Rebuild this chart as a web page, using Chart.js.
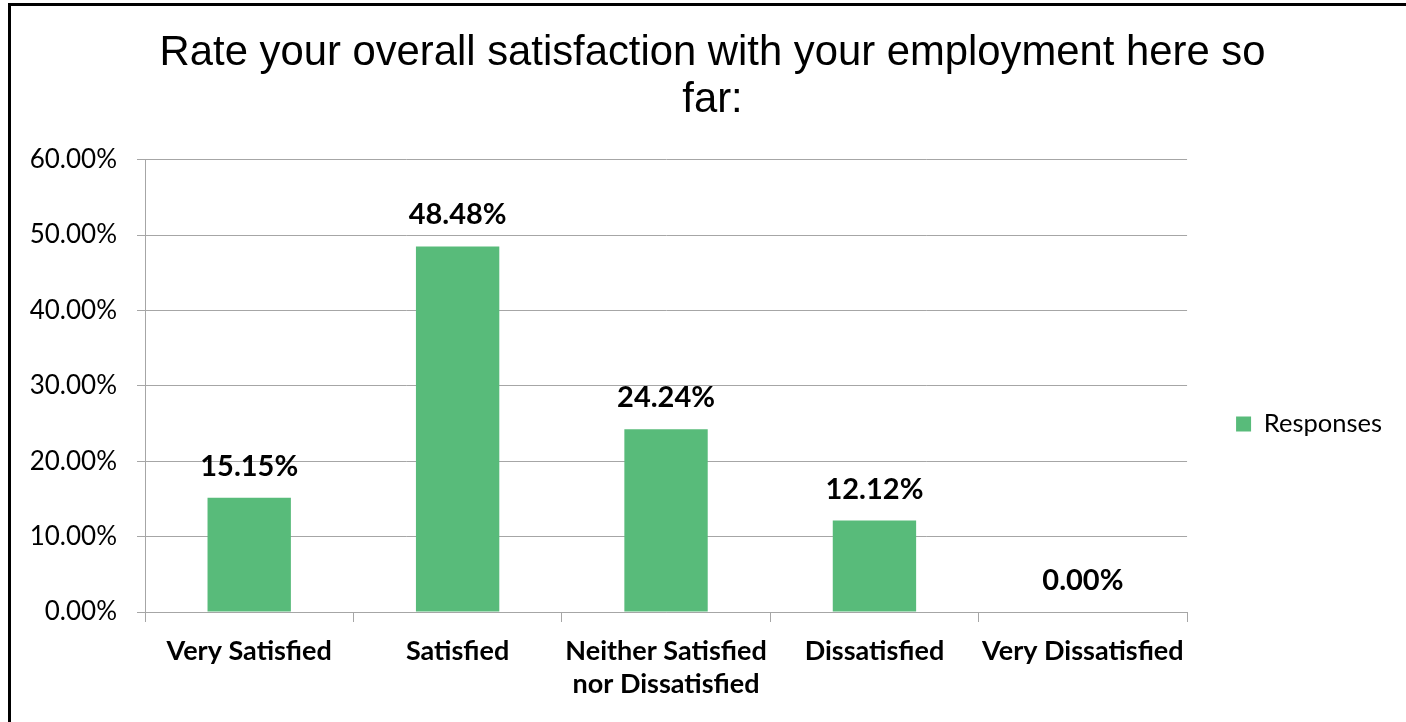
<!DOCTYPE html>
<html>
<head>
<meta charset="utf-8">
<script src="https://cdn.jsdelivr.net/npm/chart.js@4.4.0/dist/chart.umd.min.js"></script>
<style>
  html, body { margin: 0; padding: 0; background: #fff; overflow: hidden; }
  .frame { position: absolute; left: 8px; top: 3px; width: 1500px; height: 800px; border-left: 3px solid #000; border-top: 3px solid #000; }
  .wrap { position: absolute; left: 11px; top: 6px; width: 1381px; height: 836px; }
</style>
</head>
<body>
<div class="frame"></div>
<div class="wrap"><canvas id="bar-chart"></canvas></div>
<script>
const titleLines = ['Rate your overall satisfaction with your employment here so', 'far:'];
const categories = [
    'Very Satisfied',
    'Satisfied',
    ['Neither Satisfied', 'nor Dissatisfied'],
    'Dissatisfied',
    'Very Dissatisfied'
];
const responses = [15.15, 48.48, 24.24, 12.12, 0.00];
const seriesName = 'Responses';
const yMax = 60;
const yStep = 10;

const barColor = '#58BB7A';
const gridColor = '#A6A6A6';
const textFont = 'Lato, "Open Sans", sans-serif';

// draws the value above each bar
const valueLabels = {
    id: 'valueLabels',
    afterLayout(chart) {
        // title sits a bit right of the plot centre in the original
        chart.titleBlock.left += 4;
        chart.titleBlock.right += 4;
    },
    afterDatasetsDraw(chart) {
        let ctx = chart.ctx;
        let meta = chart.getDatasetMeta(0);
        ctx.save();
        ctx.font = 'bold 29px ' + textFont;
        ctx.fillStyle = '#000';
        ctx.textAlign = 'center';
        ctx.textBaseline = 'alphabetic';
        meta.data.forEach((bar, i) => {
            ctx.fillText(responses[i].toFixed(2) + '%', bar.x, bar.y - 22);
        });
        ctx.restore();
    }
};

let options = {
    type: 'bar',
    data: {
        labels: categories,
        datasets: [{
            label: seriesName,
            data: responses,
            backgroundColor: barColor,
            borderWidth: 0,
            barPercentage: 0.4,
            categoryPercentage: 1.0
        }]
    },
    options: {
        responsive: true,
        maintainAspectRatio: false,
        animation: false,
        layout: { padding: { left: 14, right: 0, top: 0, bottom: 0 } },
        plugins: {
            title: {
                display: true,
                text: titleLines,
                color: '#000',
                font: { family: '"Liberation Sans", Arial, sans-serif', size: 41.8, weight: 'normal', lineHeight: 1.12 },
                padding: { top: 24, bottom: 36 }
            },
            legend: {
                position: 'right',
                labels: {
                    color: '#000',
                    font: { family: textFont, size: 25.5 },
                    boxWidth: 15,
                    boxHeight: 15,
                    padding: 49
                }
            },
            tooltip: { enabled: false }
        },
        scales: {
            x: {
                afterFit: (scale) => { scale.height = 230; },
                grid: { display: true, drawOnChartArea: false, drawTicks: true, tickLength: 10, color: gridColor, offset: true },
                border: { display: true, color: gridColor },
                ticks: {
                    color: '#000',
                    font: { family: textFont, size: 27, weight: 'bold', lineHeight: 1.22 },
                    padding: 13,
                    maxRotation: 0,
                    autoSkip: false
                }
            },
            y: {
                min: 0,
                max: yMax,
                afterFit: (scale) => { scale.width = 120; },
                grid: { color: gridColor, drawTicks: true, tickLength: 8 },
                border: { display: true, color: gridColor },
                ticks: {
                    stepSize: yStep,
                    color: '#000',
                    font: { family: textFont, size: 26 },
                    padding: 20,
                    callback: (v) => v.toFixed(2) + '%'
                }
            }
        }
    },
    plugins: [valueLabels]
};

new Chart(document.getElementById('bar-chart'), options);
</script>
</body>
</html>
